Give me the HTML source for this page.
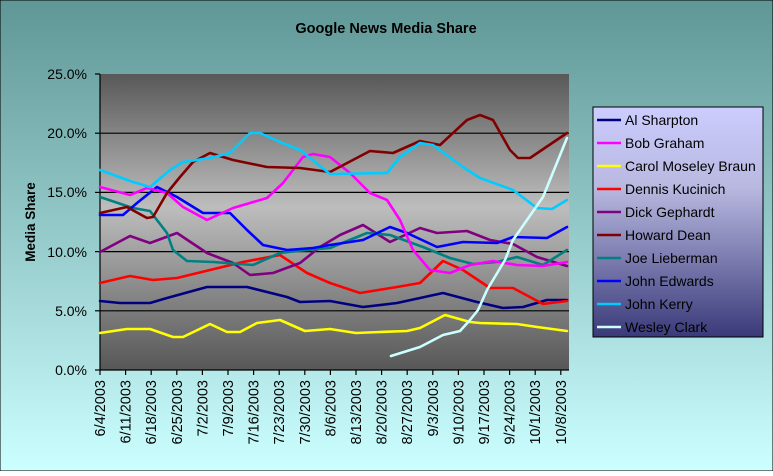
<!DOCTYPE html>
<html><head><meta charset="utf-8"><style>
html,body{margin:0;padding:0;}
body{width:773px;height:471px;overflow:hidden;}
text{font-family:"Liberation Sans",Arial,sans-serif;}
</style></head><body>
<svg width="773" height="471" viewBox="0 0 773 471" xmlns="http://www.w3.org/2000/svg">
<defs>
<linearGradient id="bg" x1="0" y1="0" x2="0" y2="1">
<stop offset="0" stop-color="#5f9696"/><stop offset="1" stop-color="#ccffff"/></linearGradient>
<linearGradient id="pa" x1="0" y1="0" x2="0" y2="1">
<stop offset="0" stop-color="#585858"/><stop offset="0.45" stop-color="#bdbdbd"/><stop offset="1" stop-color="#575757"/></linearGradient>
<linearGradient id="lg" x1="0" y1="0" x2="0" y2="1">
<stop offset="0" stop-color="#ccccff"/><stop offset="0.35" stop-color="#b8b8e0"/><stop offset="1" stop-color="#3a3a7a"/></linearGradient>
</defs>
<rect x="0" y="0" width="773" height="471" fill="url(#bg)" stroke="#000" stroke-width="1"/>
<text x="386" y="33" text-anchor="middle" font-size="14.5" font-weight="bold">Google News Media Share</text>
<rect x="100" y="74" width="469" height="296" fill="url(#pa)"/>
<g stroke="#000" stroke-width="1.2">
<line x1="100" y1="133.2" x2="569" y2="133.2"/>
<line x1="100" y1="192.4" x2="569" y2="192.4"/>
<line x1="100" y1="251.6" x2="569" y2="251.6"/>
<line x1="100" y1="310.8" x2="569" y2="310.8"/>
<line x1="100" y1="74" x2="100" y2="370"/>
<line x1="100" y1="370" x2="569" y2="370"/>
<line x1="95" y1="74" x2="100" y2="74"/><line x1="95" y1="133.2" x2="100" y2="133.2"/><line x1="95" y1="192.4" x2="100" y2="192.4"/><line x1="95" y1="251.6" x2="100" y2="251.6"/><line x1="95" y1="310.8" x2="100" y2="310.8"/><line x1="95" y1="370" x2="100" y2="370"/>
</g>
<g font-size="14" text-anchor="end">
<text x="87" y="79">25.0%</text><text x="87" y="138">20.0%</text><text x="87" y="197">15.0%</text><text x="87" y="257">10.0%</text><text x="87" y="316">5.0%</text><text x="87" y="375">0.0%</text>
</g>
<text transform="translate(35,222) rotate(-90)" text-anchor="middle" font-size="13.5" font-weight="bold">Media Share</text>
<g fill="none" stroke-width="2.6" stroke-linejoin="round" stroke-linecap="round">
<polyline stroke="#ffff00" points="100,333 127,329 150,329 173,337 183,337 210,324 227,332 240,332 257,323 280,320 305,331 330,329 356,333 380,332 407,331 420,328 445,315 470,322 480,323 517,324 537,327 567,331"/>
<polyline stroke="#000080" points="100,301 120,303 150,303 167,298 207,287 247,287 287,297 300,302 330,301 363,307 397,303 443,293 477,302 503,308 523,307 547,300 567,300"/>
<polyline stroke="#ff0000" points="100,283 130,276 153,280 177,278 210,270 243,262 280,255 307,273 330,283 360,293 397,287 420,283 443,261 463,270 490,288 513,288 543,304 567,301"/>
<polyline stroke="#800080" points="100,252 130,236 150,243 177,233 207,253 233,263 250,275 273,273 300,263 320,247 340,235 363,225 390,242 420,228 437,233 467,231 490,240 513,244 537,257 567,266"/>
<polyline stroke="#008080" points="100,197 133,208 150,211 167,233 173,250 187,261 213,262 253,265 280,253 307,250 330,248 367,233 390,235 423,247 450,258 473,264 497,262 517,257 543,265 567,250"/>
<polyline stroke="#0000ff" points="100,215 123,215 137,203 157,187 177,197 203,213 230,213 247,230 263,245 287,250 313,248 330,245 363,240 390,227 407,233 437,247 463,242 497,243 513,237 547,238 567,227"/>
<polyline stroke="#ff00ff" points="100,187 130,195 147,188 167,193 183,207 207,220 233,208 267,198 283,183 303,157 313,154 330,157 350,173 370,193 387,200 400,220 413,250 430,270 450,273 470,265 493,261 517,265 543,266 567,262"/>
<polyline stroke="#800000" points="100,213 127,207 147,218 153,217 167,193 180,177 193,162 210,153 233,160 267,167 300,168 330,172 370,151 393,153 420,141 440,145 467,120 480,115 493,120 510,150 518,158 530,158 567,133"/>
<polyline stroke="#00ccff" points="100,170 133,182 150,187 170,170 183,162 210,158 230,153 250,133 260,133 280,142 300,150 330,174 387,173 400,157 420,143 433,145 463,167 480,178 513,190 537,208 552,209 567,200"/>
<polyline stroke="#ccffff" points="391,356 420,347 443,335 460,331 470,320 478,310 487,290 505,260 513,240 543,197 567,138"/>
</g>
<rect x="593" y="107" width="170" height="230" fill="url(#lg)" stroke="#000" stroke-width="1"/>
<g stroke-width="2.6">
<line x1="597" y1="120" x2="621" y2="120" stroke="#000080"/>
<line x1="597" y1="143" x2="621" y2="143" stroke="#ff00ff"/>
<line x1="597" y1="166" x2="621" y2="166" stroke="#ffff00"/>
<line x1="597" y1="189" x2="621" y2="189" stroke="#ff0000"/>
<line x1="597" y1="212" x2="621" y2="212" stroke="#800080"/>
<line x1="597" y1="235" x2="621" y2="235" stroke="#800000"/>
<line x1="597" y1="258" x2="621" y2="258" stroke="#008080"/>
<line x1="597" y1="281" x2="621" y2="281" stroke="#0000ff"/>
<line x1="597" y1="304" x2="621" y2="304" stroke="#00ccff"/>
<line x1="597" y1="327" x2="621" y2="327" stroke="#ccffff"/>
</g>
<g font-size="14">
<text x="625" y="125">Al Sharpton</text><text x="625" y="148">Bob Graham</text><text x="625" y="171">Carol Moseley Braun</text><text x="625" y="194">Dennis Kucinich</text><text x="625" y="217">Dick Gephardt</text><text x="625" y="240">Howard Dean</text><text x="625" y="263">Joe Lieberman</text><text x="625" y="286">John Edwards</text><text x="625" y="309">John Kerry</text><text x="625" y="332">Wesley Clark</text>
</g>
<g stroke="#000" stroke-width="1.2">
<line x1="100" y1="370" x2="100" y2="375"/><line x1="125.6" y1="370" x2="125.6" y2="375"/><line x1="151.2" y1="370" x2="151.2" y2="375"/><line x1="176.8" y1="370" x2="176.8" y2="375"/><line x1="202.4" y1="370" x2="202.4" y2="375"/><line x1="228" y1="370" x2="228" y2="375"/><line x1="253.6" y1="370" x2="253.6" y2="375"/><line x1="279.2" y1="370" x2="279.2" y2="375"/><line x1="304.8" y1="370" x2="304.8" y2="375"/><line x1="330.4" y1="370" x2="330.4" y2="375"/><line x1="356" y1="370" x2="356" y2="375"/><line x1="381.6" y1="370" x2="381.6" y2="375"/><line x1="407.2" y1="370" x2="407.2" y2="375"/><line x1="432.8" y1="370" x2="432.8" y2="375"/><line x1="458.4" y1="370" x2="458.4" y2="375"/><line x1="484" y1="370" x2="484" y2="375"/><line x1="509.6" y1="370" x2="509.6" y2="375"/><line x1="535.2" y1="370" x2="535.2" y2="375"/><line x1="560.8" y1="370" x2="560.8" y2="375"/>
</g>
<g font-size="14.5" text-anchor="end">
<text transform="translate(105,380) rotate(-90)">6/4/2003</text>
<text transform="translate(130.6,380) rotate(-90)">6/11/2003</text>
<text transform="translate(156.2,380) rotate(-90)">6/18/2003</text>
<text transform="translate(181.8,380) rotate(-90)">6/25/2003</text>
<text transform="translate(207.4,380) rotate(-90)">7/2/2003</text>
<text transform="translate(233,380) rotate(-90)">7/9/2003</text>
<text transform="translate(258.6,380) rotate(-90)">7/16/2003</text>
<text transform="translate(284.2,380) rotate(-90)">7/23/2003</text>
<text transform="translate(309.8,380) rotate(-90)">7/30/2003</text>
<text transform="translate(335.4,380) rotate(-90)">8/6/2003</text>
<text transform="translate(361,380) rotate(-90)">8/13/2003</text>
<text transform="translate(386.6,380) rotate(-90)">8/20/2003</text>
<text transform="translate(412.2,380) rotate(-90)">8/27/2003</text>
<text transform="translate(437.8,380) rotate(-90)">9/3/2003</text>
<text transform="translate(463.4,380) rotate(-90)">9/10/2003</text>
<text transform="translate(489,380) rotate(-90)">9/17/2003</text>
<text transform="translate(514.6,380) rotate(-90)">9/24/2003</text>
<text transform="translate(540.2,380) rotate(-90)">10/1/2003</text>
<text transform="translate(565.8,380) rotate(-90)">10/8/2003</text>
</g>
</svg>
</body></html>
